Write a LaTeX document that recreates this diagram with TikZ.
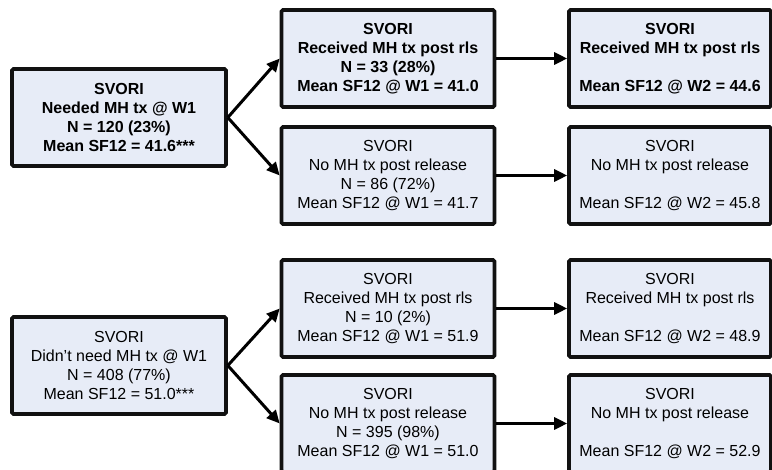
\documentclass[tikz,border=0pt]{standalone}
\usepackage{fontspec}
\setmainfont{Liberation Sans}
\usetikzlibrary{arrows.meta}
\definecolor{boxfill}{RGB}{231,236,247}
\definecolor{boxline}{RGB}{17,17,17}
\tikzset{
  box/.style={draw=boxline, fill=boxfill, line width=3.6pt, rounded corners=1.5pt,
    inner sep=0pt, align=center, font=\fontsize{16}{19}\selectfont,
    minimum height=97pt},
  wide/.style={box, minimum width=213pt},
  rbox/.style={box, minimum width=202pt},
  conn/.style={line width=3pt, draw=black, -{Triangle[length=13pt,width=12pt]}},
}
\begin{document}
\begin{tikzpicture}[x=1pt,y=-1pt]
\useasboundingbox (0,0) rectangle (772,470);
% top group
\node[wide, minimum width=214pt] (l1) at (119,117.5) {\bfseries SVORI\\\bfseries Needed MH tx @ W1\\\bfseries N = 120 (23\%)\\\bfseries Mean SF12 = 41.6***};
\node[wide] (m1) at (388,58.5) {\bfseries SVORI\\\bfseries Received MH tx post rls\\\bfseries N = 33 (28\%)\\\bfseries Mean SF12 @ W1 = 41.0};
\node[wide] (m2) at (388,175.5) {SVORI\\No MH tx post release\\N = 86 (72\%)\\Mean SF12 @ W1 = 41.7};
\node[rbox] (r1) at (670,58.5) {\bfseries SVORI\\\bfseries Received MH tx post rls\\[19pt]\bfseries Mean SF12 @ W2 = 44.6};
\node[rbox] (r2) at (670,175.5) {SVORI\\No MH tx post release\\[19pt]Mean SF12 @ W2 = 45.8};
% bottom group
\node[wide, minimum width=214pt] (l2) at (119,365.5) {SVORI\\Didn’t need MH tx @ W1\\N = 408 (77\%)\\Mean SF12 = 51.0***};
\node[wide] (m3) at (388,308.5) {SVORI\\Received MH tx post rls\\N = 10 (2\%)\\Mean SF12 @ W1 = 51.9};
\node[wide] (m4) at (388,423.5) {SVORI\\No MH tx post release\\N = 395 (98\%)\\Mean SF12 @ W1 = 51.0};
\node[rbox] (r3) at (670,308.5) {SVORI\\Received MH tx post rls\\[19pt]Mean SF12 @ W2 = 48.9};
\node[rbox] (r4) at (670,423.5) {SVORI\\No MH tx post release\\[19pt]Mean SF12 @ W2 = 52.9};
% connectors
\draw[conn] (l1.east) -- (m1.west);
\draw[conn] (l1.east) -- (m2.west);
\draw[conn] (m1.east) -- (r1.west);
\draw[conn] (m2.east) -- (r2.west);
\draw[conn] (l2.east) -- (m3.west);
\draw[conn] (l2.east) -- (m4.west);
\draw[conn] (m3.east) -- (r3.west);
\draw[conn] (m4.east) -- (r4.west);
\end{tikzpicture}
\end{document}
